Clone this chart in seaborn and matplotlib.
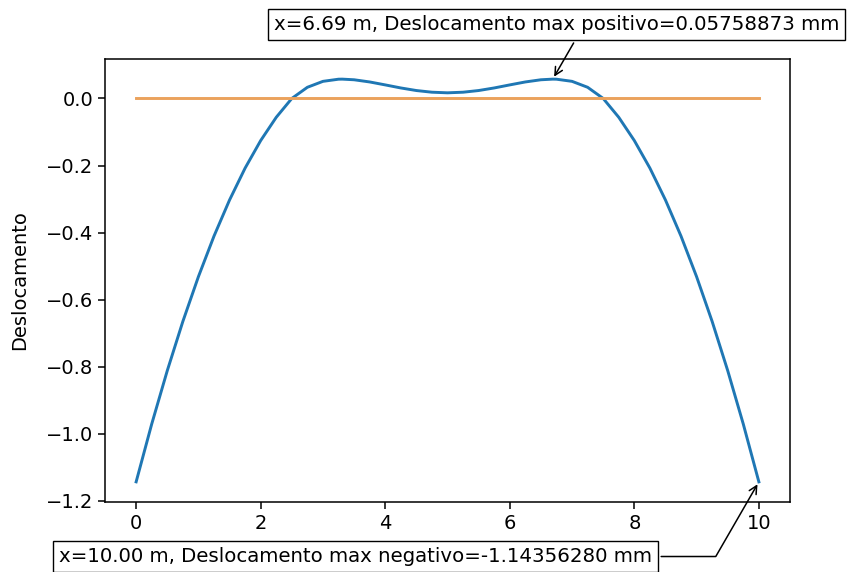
import numpy as np
import pandas as pd
import matplotlib
matplotlib.use("Agg")
import matplotlib.pyplot as plt
import seaborn as sns

# Data
posicao_m = [0.0, 0.25, 0.5, 0.75, 1.0, 1.25, 1.5, 1.75, 2.0, 2.25,
             2.5, 2.75, 3.0, 3.25, 3.31, 3.5, 3.75, 4.0, 4.25, 4.5, 4.75,
             5.0, 5.25, 5.5, 5.75, 6.0, 6.25, 6.5, 6.69, 6.75, 7.0, 7.25,
             7.5, 7.75, 8.0, 8.25, 8.5, 8.75, 9.0, 9.25, 9.5, 9.75, 10.0]
deslocamento_mm = [-1.1435, -0.9712, -0.8119, -0.6652, -0.5316, -0.4107,
                   -0.3029, -0.2077, -0.1256, -0.0562,
                   0.0, 0.0333, 0.0510, 0.0574, 0.05758, 0.0557, 0.0492,
                   0.0404, 0.0313, 0.0236, 0.0186,
                   0.0168, 0.0186, 0.0236, 0.0313, 0.0404, 0.0492, 0.0557,
                   0.05758873, 0.0574, 0.0510, 0.0333,
                   0.0, -0.0562, -0.1256, -0.2077, -0.3029, -0.4107,
                   -0.5316, -0.6652, -0.8119, -0.9712, -1.14356280]
referencia_mm = [0.0] * len(posicao_m)

xticks = [0, 2, 4, 6, 8, 10]
yticks = [0.0, -0.2, -0.4, -0.6, -0.8, -1.0, -1.2]
ylabel = "Deslocamento"

df = pd.DataFrame({"x": posicao_m, "y": deslocamento_mm, "ref": referencia_mm})

fig = plt.figure(figsize=(8.63, 5.72), dpi=100)
ax = fig.add_axes([105 / 863, 1 - 502 / 572, 685 / 863, 443 / 572])

sns.lineplot(data=df, x="x", y="y", ax=ax, color="#1f77b4", linewidth=2.1)
sns.lineplot(data=df, x="x", y="ref", ax=ax, color="#eba25c", linewidth=2.1)

ax.set_xticks(xticks)
ax.set_yticks(yticks)
ax.set_xlabel("")
ax.set_ylabel(ylabel, fontsize=14, labelpad=12)
ax.tick_params(labelsize=14, length=4.8, width=1.1)
for s in ax.spines.values():
    s.set_linewidth(1.1)

xarr = np.array(posicao_m)
yarr = np.array(deslocamento_mm)
i_max = int(np.argmax(yarr))
i_min = int(np.argmin(yarr))

bbox_props = dict(boxstyle="square,pad=0.3", fc="w", ec="k", lw=1.0)
arrowprops = dict(arrowstyle="->", connectionstyle="angle,angleA=0,angleB=60",
                  lw=1.1, color="k")
kw = dict(xycoords="data", textcoords="axes fraction", arrowprops=arrowprops,
          bbox=bbox_props, ha="right", va="top", fontsize=14.2)

ax.annotate("x={:.2f} m, Deslocamento max positivo={:.8f} mm".format(xarr[i_max], yarr[i_max]),
            xy=(xarr[i_max], yarr[i_max]), xytext=(1.072, 1.099), **kw)
ax.annotate("x={:.2f} m, Deslocamento max negativo={:.8f} mm".format(xarr[i_min], yarr[i_min]),
            xy=(xarr[i_min], yarr[i_min]), xytext=(0.7985, -0.1016), **kw)

fig.savefig("out.png", dpi=100)
